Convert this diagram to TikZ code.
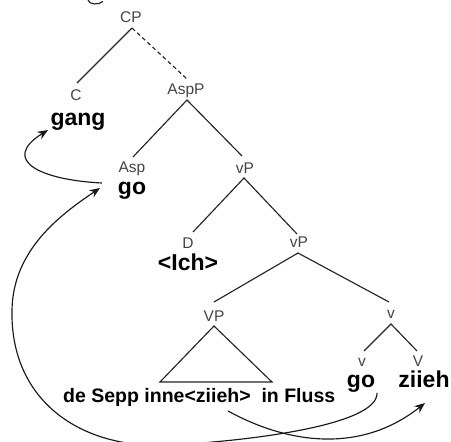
\documentclass[tikz,border=0pt]{standalone}
\usepackage{fontspec}
\setmainfont{Liberation Sans}
\usetikzlibrary{arrows.meta}
\definecolor{labelgray}{HTML}{444444}
\tikzset{
  cat/.style={anchor=base, inner sep=0pt, text=labelgray, font=\fontsize{15.5}{16}\selectfont},
  word/.style={anchor=base, inner sep=0pt, font=\fontsize{23}{24}\selectfont\bfseries},
  terminal/.style={anchor=base west, inner sep=0pt, font=\fontsize{19.5}{20}\selectfont\bfseries},
  branch/.style={line width=1.15pt, draw=black!85},
  move/.style={line width=1.15pt, draw=black!90, -{Stealth[length=10.5pt,width=8.5pt]}},
}
\begin{document}
\begin{tikzpicture}[x=1pt,y=-1pt]
\clip (0,0) rectangle (451,442);
\fill[white] (0,0) rectangle (451,442);

% category labels
\node[cat] (cp)   at (131,22.7) {CP};
\node[cat] (c)    at (76,100.5) {C};
\node[cat] (aspp) at (186,94)   {AspP};
\node[cat] (asp)  at (132,172.5){Asp};
\node[cat] (vp1)  at (245,173)  {vP};
\node[cat] (d)    at (188,248)  {D};
\node[cat] (vp2)  at (299,247)  {vP};
\node[cat] (VP)   at (214,321)  {VP};
\node[cat] (v1)   at (391,318)  {v};
\node[cat] (v2)   at (362,366)  {v};
\node[cat] (V)    at (418,366)  {V};

% lexical items
\node[word] (gang) at (78,125)  {gang};
\node[word] (go1)  at (132,194) {go};
\node[word] (ich)  at (188,270) {<Ich>};
\node[word] (go2)  at (361,387) {go};
\node[word] (zii)  at (424,387) {ziieh};
\node[terminal] (str) at (63,402) {de Sepp inne<ziieh>\ \ in Fluss};

% anchor points of the branches
\coordinate (cpB)   at (132,28);
\coordinate (cT)    at (77,83);
\coordinate (asppT) at (187,79);
\coordinate (asppB) at (187,100);
\coordinate (aspT)  at (133,157);
\coordinate (vpaT)  at (242,156);
\coordinate (vpaB)  at (244,178);
\coordinate (dT)    at (193,232);
\coordinate (vpbT)  at (297,234);
\coordinate (vpbB)  at (298,253);
\coordinate (VPT)   at (214,302);
\coordinate (vaT)   at (389,302);
\coordinate (vaB)   at (391,324);
\coordinate (vbT)   at (364,351);
\coordinate (VT)    at (417,351);
\coordinate (triA)  at (214,326);
\coordinate (triL)  at (160,382);
\coordinate (triR)  at (272,382);

% branches
\draw[branch] (cpB) -- (cT);
\draw[branch, dashed, dash pattern=on 4pt off 3pt] (cpB) -- (asppT);
\draw[branch] (aspT) -- (asppB) -- (vpaT);
\draw[branch] (dT) -- (vpaB) -- (vpbT);
\draw[branch] (VPT) -- (vpbB) -- (vaT);
\draw[branch] (vbT) -- (vaB) -- (VT);
\draw[branch] (triA) -- (triL) -- (triR) -- cycle;

% fragment at the top edge
\draw[branch] (88,0) .. controls (89,5) and (99,5) .. (103,1.5);

% movement arrows
\coordinate (goOut) at (102,183);
\coordinate (gangIn) at (48,130);
\draw[move] (goOut) .. controls (40,180) and (0,160) .. (gangIn);

\coordinate (go2Out) at (377,393);
\coordinate (go1In) at (100,188);
\draw[move] (go2Out) .. controls (378,425) and (250,441) .. (170,445)
  .. controls (80,450) and (10,400) .. (12,310)
  .. controls (13,250) and (60,215) .. (go1In);

\coordinate (ziiOut) at (228,411);
\coordinate (ziiIn) at (425,403);
\draw[move] (ziiOut) .. controls (290,445) and (362,453) .. (ziiIn);
\end{tikzpicture}
\end{document}
